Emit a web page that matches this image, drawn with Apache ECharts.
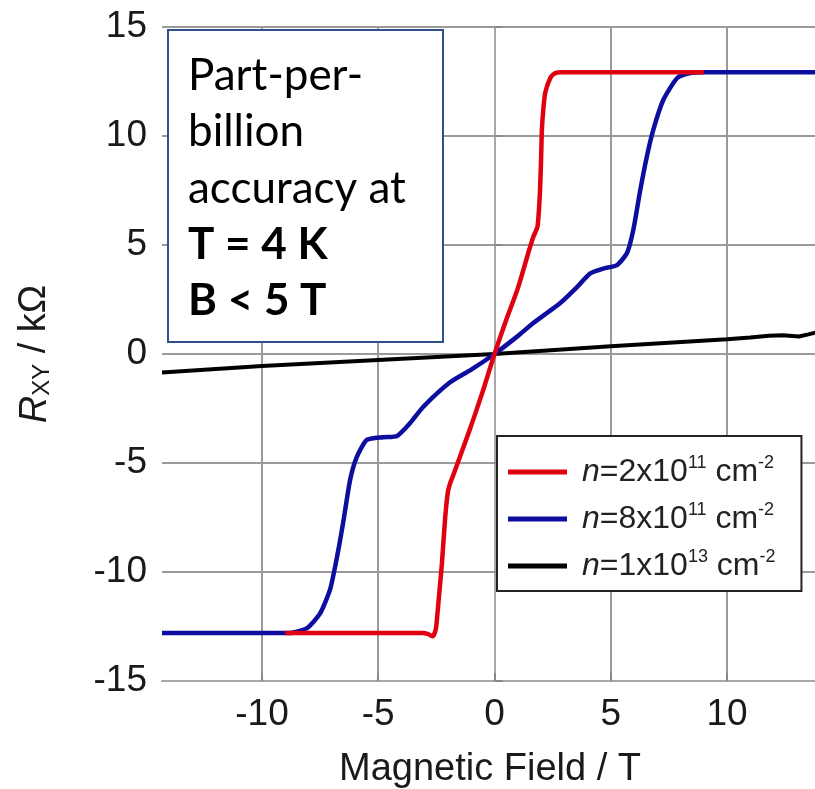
<!DOCTYPE html>
<html>
<head>
<meta charset="utf-8">
<script src="https://cdn.jsdelivr.net/npm/echarts@6/dist/echarts.min.js"></script>
<style>
html,body{margin:0;padding:0;background:#fff;}
#chart{width:815px;height:789px;}
</style>
</head>
<body>
<div id="chart"></div>
<script>
// ---- data (Magnetic field in T, R_xy in kOhm) ----
const xTicks = [-10, -5, 0, 5, 10];
const yTicks = [-15, -10, -5, 0, 5, 10, 15];

const seriesNames = ['n=2x10^11 cm^-2', 'n=8x10^11 cm^-2', 'n=1x10^13 cm^-2'];

const redB = [-9.0, -3.1, -2.85, -2.65, -2.52, -2.46, -2.36, -2.26, -2.12, -2.0, -1.88, -1.77, -1.04, -0.5, 0, 0.5, 1.0, 1.5, 1.67, 1.85, 1.95, 2.0, 2.04, 2.1, 2.18, 2.4, 2.6, 2.9, 9.0];
const redR = [-12.8, -12.8, -12.85, -12.95, -12.6, -12.0, -10.8, -9.6, -7.5, -6.3, -5.85, -5.55, -3.4, -1.7, 0, 1.55, 3.0, 4.8, 5.37, 5.84, 7.3, 8.76, 10.3, 11.2, 11.97, 12.66, 12.88, 12.93, 12.93];

const blueB = [-14.3, -8.8, -8.06, -7.5, -7.07, -6.77, -6.51, -6.21, -5.92, -5.49, -4.79, -4.19, -3.63, -3.07, -1.91, -1.0, 0, 1.0, 1.67, 2.83, 3.55, 4.12, 4.68, 5.27, 5.7, 5.97, 6.27, 6.55, 6.83, 7.26, 7.86, 8.42, 9.0, 13.95];
const blueR = [-12.8, -12.8, -12.57, -11.9, -10.8, -9.3, -7.75, -5.78, -4.72, -3.94, -3.82, -3.76, -3.17, -2.43, -1.3, -0.72, 0, 0.82, 1.42, 2.34, 3.07, 3.7, 3.92, 4.08, 4.63, 5.69, 7.52, 9.04, 10.28, 11.65, 12.66, 12.89, 12.93, 12.93];

const blackB = [-14.3, -10, -5, 0, 5, 10, 11, 11.8, 12.4, 13.1, 13.5, 13.95];
const blackR = [-0.85, -0.55, -0.27, 0, 0.35, 0.68, 0.76, 0.84, 0.86, 0.8, 0.9, 1.02];

const boxLines = ['Part-per-', 'billion', 'accuracy at', 'T = 4 K', 'B < 5 T'];
const boxBold = [false, false, false, true, true];

const zip = (a, b) => a.map((v, i) => [v, b[i]]);

const FONT = '"Liberation Sans", Arial, sans-serif';
const legendRich = {
  'n=2x10^11 cm^-2': '{it|n}=2x10{sup|11} cm{sup|-2}',
  'n=8x10^11 cm^-2': '{it|n}=8x10{sup|11} cm{sup|-2}',
  'n=1x10^13 cm^-2': '{it|n}=1x10{sup|13} cm{sup|-2}'
};

const chart = echarts.init(document.getElementById('chart'), null, {renderer: 'canvas'});

const boxGraphics = [{
  type: 'rect',
  shape: {x: 168, y: 30, width: 275, height: 312},
  style: {fill: '#fff', stroke: '#2F528F', lineWidth: 2},
  z: 100
}];
boxLines.forEach((t, i) => {
  boxGraphics.push({
    type: 'text',
    x: 188,
    y: 76 + i * 56.3,
    style: {
      text: t,
      fill: '#000',
      font: (boxBold[i] ? 'bold ' : '') + '44px Lato, "Open Sans", sans-serif',
      verticalAlign: 'middle',
      align: 'left'
    },
    z: 101
  });
});

const option = {
  animation: false,
  backgroundColor: '#fff',
  grid: {left: 162, top: 27, right: -3, bottom: 108, containLabel: false, outerBoundsMode: 'none'},
  xAxis: {
    type: 'value',
    min: -14.3,
    max: 13.915,
    name: 'Magnetic Field / T',
    nameLocation: 'middle',
    nameGap: 70,
    nameTextStyle: {fontFamily: FONT, fontSize: 38, color: '#1a1a1a'},
    axisLine: {show: true, onZero: false, lineStyle: {color: '#a8a8a8', width: 2}},
    axisTick: {show: true, inside: true, length: 8, customValues: xTicks, lineStyle: {color: '#888', width: 2}},
    axisLabel: {customValues: xTicks, fontFamily: FONT, fontSize: 37, color: '#1a1a1a', margin: 15},
    splitLine: {show: true, lineStyle: {color: '#9a9a9a', width: 2}}
  },
  yAxis: {
    type: 'value',
    min: -15,
    max: 15,
    interval: 5,
    name: '{r|R}{s|XY}{t| / kΩ}',
    nameLocation: 'middle',
    nameGap: 108,
    nameTextStyle: {
      fontFamily: FONT, fontSize: 38, color: '#1a1a1a',
      rich: {
        r: {fontFamily: FONT, fontSize: 38, fontStyle: 'italic', color: '#1a1a1a'},
        s: {fontFamily: FONT, fontSize: 24, color: '#1a1a1a', verticalAlign: 'bottom', padding: [14, 0, 0, 0]},
        t: {fontFamily: FONT, fontSize: 38, color: '#1a1a1a'}
      }
    },
    axisLine: {show: true, lineStyle: {color: '#a8a8a8', width: 2}},
    axisTick: {show: true, inside: true, length: 8, lineStyle: {color: '#888', width: 2}},
    axisLabel: {fontFamily: FONT, fontSize: 37, color: '#1a1a1a', margin: 15},
    splitLine: {show: true, lineStyle: {color: '#9a9a9a', width: 2}}
  },
  legend: {
    show: true,
    orient: 'vertical',
    left: 497,
    top: 436,
    data: seriesNames,
    backgroundColor: '#fff',
    borderColor: '#222',
    borderWidth: 2,
    borderRadius: 0,
    padding: [18, 26, 7, 11],
    itemWidth: 59,
    itemHeight: 5,
    itemGap: 11,
    icon: 'rect',
    formatter: name => legendRich[name],
    textStyle: {
      fontFamily: FONT, fontSize: 32, color: '#222', lineHeight: 36, padding: [0, 0, 0, 10],
      rich: {
        it: {fontFamily: FONT, fontSize: 32, fontStyle: 'italic', color: '#222', lineHeight: 36},
        sup: {fontFamily: FONT, fontSize: 18, color: '#222', verticalAlign: 'top', lineHeight: 18}
      }
    },
    z: 50
  },
  series: [
    {
      name: seriesNames[2], type: 'line', data: zip(blackB, blackR),
      showSymbol: false, smooth: false, color: '#000',
      lineStyle: {color: '#000', width: 4}, z: 2
    },
    {
      name: seriesNames[1], type: 'line', data: zip(blueB, blueR),
      showSymbol: false, smooth: 0.2, color: '#0d0da0',
      lineStyle: {color: '#0d0da0', width: 4.5}, z: 3
    },
    {
      name: seriesNames[0], type: 'line', data: zip(redB, redR),
      showSymbol: false, smooth: 0.2, color: '#e00010',
      lineStyle: {color: '#e00010', width: 4.5}, z: 4
    }
  ],
  graphic: boxGraphics
};
chart.setOption(option);
</script>
</body>
</html>
